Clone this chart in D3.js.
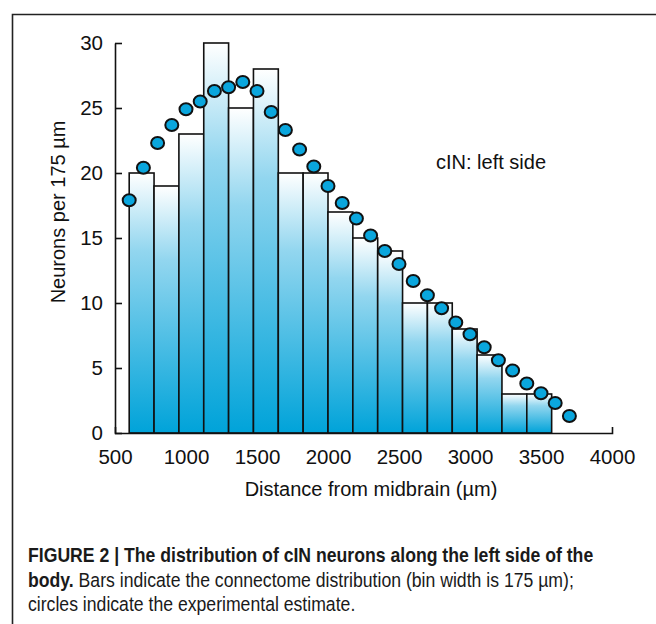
<!DOCTYPE html>
<html>
<head>
<meta charset="utf-8">
<script src="https://cdn.jsdelivr.net/npm/d3@7"></script>
<style>
  html, body { margin: 0; padding: 0; background: #fff; }
  svg { display: block; }
  .axis text { font-family: "Liberation Sans", Arial, sans-serif; font-size: 20.5px; fill: #111; }
  .axis path, .axis line { stroke: #111; stroke-width: 1.6; }
  .lbl { font-family: "Liberation Sans", Arial, sans-serif; font-size: 20px; fill: #111; }
  .cap { font-family: "Liberation Sans", Arial, sans-serif; font-size: 19.5px; fill: #1a1a1a; }
</style>
</head>
<body>
<svg id="chart" width="656" height="624"></svg>
<script>
// Connectome histogram: bins of 175 µm starting at 600 µm
const binStarts = [600, 775, 950, 1125, 1300, 1475, 1650, 1825, 2000, 2175, 2350, 2525, 2700, 2875, 3050, 3225, 3400];
const binWidth = 175;
const binCounts = [20, 19, 23, 30, 25, 28, 20, 20, 17, 15, 14, 10, 10, 8, 6, 3, 3];

// Experimental estimate (circles)
const estX = [600, 700, 800, 900, 1000, 1100, 1200, 1300, 1400, 1500, 1600, 1700, 1800, 1900, 2000, 2100,
              2200, 2300, 2400, 2500, 2600, 2700, 2800, 2900, 3000, 3100, 3200, 3300, 3400, 3500, 3600, 3700];
const estY = [17.9, 20.4, 22.3, 23.7, 24.9, 25.5, 26.3, 26.6, 27.0, 26.3, 24.7, 23.3, 21.8, 20.5, 19.0, 17.7,
              16.5, 15.2, 14.0, 13.0, 11.7, 10.6, 9.6, 8.5, 7.6, 6.6, 5.6, 4.8, 3.8, 3.05, 2.3, 1.3];

const xTicks = [500, 1000, 1500, 2000, 2500, 3000, 3500, 4000];
const yTicks = [0, 5, 10, 15, 20, 25, 30];

const svg = d3.select("#chart");

// Figure frame (left and top edges)
svg.append("path")
  .attr("d", "M12.5,624 V14.5 H656")
  .attr("fill", "none")
  .attr("stroke", "#222")
  .attr("stroke-width", 1.6);

const x = d3.scaleLinear().domain([500, 4000]).range([115, 612]);
const y = d3.scaleLinear().domain([0, 30]).range([433, 43]);

const defs = svg.append("defs");
const grad = defs.append("linearGradient")
  .attr("id", "barFill")
  .attr("x1", 0).attr("y1", 0).attr("x2", 0).attr("y2", 1);
grad.append("stop").attr("offset", "0%").attr("stop-color", "#ffffff");
grad.append("stop").attr("offset", "30%").attr("stop-color", "#92d6ef");
grad.append("stop").attr("offset", "100%").attr("stop-color", "#00a3d9");

const bins = binStarts.map((s, i) => ({ x0: s, x1: s + binWidth, n: binCounts[i] }));

svg.append("g").selectAll("rect")
  .data(bins)
  .join("rect")
  .attr("x", d => x(d.x0))
  .attr("y", d => y(d.n))
  .attr("width", d => x(d.x1) - x(d.x0))
  .attr("height", d => y(0) - y(d.n))
  .attr("fill", "url(#barFill)")
  .attr("stroke", "#111")
  .attr("stroke-width", 1.6);

// Axes
const yAxis = d3.axisLeft(y).tickValues(yTicks).tickSizeInner(-7).tickSizeOuter(0).tickPadding(12);
svg.append("g").attr("class", "axis").attr("transform", "translate(115,0)").call(yAxis);

const xAxis = d3.axisBottom(x).tickValues(xTicks).tickFormat(d3.format("d"))
  .tickSizeInner(0).tickSizeOuter(-6).tickPadding(16);
svg.append("g").attr("class", "axis").attr("transform", "translate(0,433)").call(xAxis);

// Estimate circles
svg.append("g").selectAll("ellipse")
  .data(estX.map((v, i) => ({ x: v, y: estY[i] })))
  .join("ellipse")
  .attr("cx", d => x(d.x))
  .attr("cy", d => y(d.y))
  .attr("rx", 6.5)
  .attr("ry", 6)
  .attr("fill", "#0aa6dd")
  .attr("stroke", "#111")
  .attr("stroke-width", 2);

// Labels
svg.append("text").attr("class", "lbl")
  .attr("x", 436).attr("y", 169)
  .text("cIN: left side");

svg.append("text").attr("class", "lbl")
  .attr("text-anchor", "middle")
  .attr("x", 371).attr("y", 496)
  .text("Distance from midbrain (µm)");

svg.append("text").attr("class", "lbl")
  .attr("text-anchor", "middle")
  .attr("transform", "translate(65,212) rotate(-90)")
  .text("Neurons per 175 µm");

// Caption, set in a condensed width
const capG = svg.append("g").attr("transform", "translate(28,0) scale(0.905,1)");
const l1 = capG.append("text").attr("class", "cap").attr("x", 0).attr("y", 562);
l1.append("tspan").attr("font-weight", "bold")
  .text("FIGURE 2 | The distribution of cIN neurons along the left side of the");
const l2 = capG.append("text").attr("class", "cap").attr("x", 0).attr("y", 587);
l2.append("tspan").attr("font-weight", "bold").text("body.");
l2.append("tspan").text(" Bars indicate the connectome distribution (bin width is 175 µm);");
capG.append("text").attr("class", "cap").attr("x", 0).attr("y", 611)
  .text("circles indicate the experimental estimate.");
</script>
</body>
</html>
